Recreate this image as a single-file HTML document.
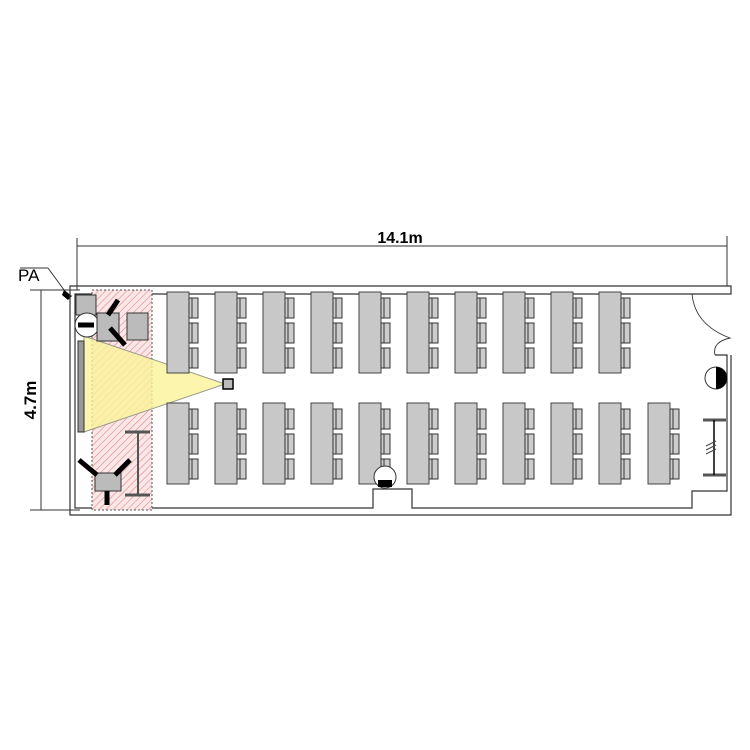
<!DOCTYPE html>
<html><head><style>body{margin:0;background:#fff}svg{display:block}</style></head><body>
<svg width="750" height="750" viewBox="0 0 750 750" xmlns="http://www.w3.org/2000/svg" font-family="Liberation Sans, sans-serif">
<defs>
<pattern id="h" width="5" height="5" patternUnits="userSpaceOnUse" patternTransform="rotate(45)">
<rect width="5" height="5" fill="#fbe7e7"/><line x1="0" y1="0" x2="0" y2="5" stroke="#d88" stroke-width="1.2"/></pattern>
<g id="d"><rect x="0" y="0" width="22" height="81" fill="#c8c8c8" stroke="#444"/>
<g fill="#ccc" stroke="#333"><rect x="22" y="6" width="9" height="20"/><rect x="22" y="31" width="9" height="20"/><rect x="22" y="56" width="9" height="20"/></g>
<g stroke="#333"><line x1="25" y1="6" x2="25" y2="26"/><line x1="25" y1="31" x2="25" y2="51"/><line x1="25" y1="56" x2="25" y2="76"/></g></g>
</defs>
<g stroke="#333" fill="none">
<line x1="77" y1="246" x2="727" y2="246"/><line x1="77" y1="238" x2="77" y2="290"/><line x1="727" y1="236" x2="727" y2="286"/>
<line x1="41" y1="290" x2="41" y2="510"/><line x1="30" y1="290" x2="80" y2="290"/><line x1="30" y1="510" x2="80" y2="510"/>
<line x1="20" y1="268" x2="48" y2="268"/><line x1="48" y1="268" x2="67" y2="294"/>
</g>
<polygon points="64,290 72,296 68,300 62,295" fill="#000"/>
<text x="400" y="243" font-size="16" font-weight="bold" text-anchor="middle">14.1m</text>
<text x="18" y="281" font-size="17">PA</text>
<text transform="translate(36,400) rotate(-90)" font-size="17" font-weight="bold" text-anchor="middle">4.7m</text>
<g stroke="#333" fill="none" stroke-width="1.2">
<path d="M731,355 V515 H70 V286 H731 V294 H692"/>
<path d="M692,294 H75 V508 H373 V489 H412 V508 H692 V491 H727 V355 H715"/>
<path d="M692,294 Q695,325 730,338 Q712,342 715,355" stroke-width="0.9"/>
</g>
<rect x="92" y="290" width="60" height="220" fill="url(#h)" stroke="#555" stroke-dasharray="2,2"/>
<polygon points="84,336 84,432 225,384" fill="#fbf29a" fill-opacity="0.8" stroke="#998"/>
<rect x="78" y="341" width="6" height="91" fill="#999" stroke="#333"/>
<rect x="223" y="379" width="10" height="10" fill="#bbb" stroke="#000" stroke-width="1.5"/>
<g fill="#bbb" stroke="#333">
<rect x="76" y="295" width="20" height="20"/>
<circle cx="87" cy="325" r="12" fill="#fff"/>
<rect x="97" y="313" width="22" height="28"/>
<rect x="127" y="313" width="21" height="27"/><rect x="95" y="473" width="26" height="18"/>
</g>
<g stroke="#000" stroke-width="5">
<line x1="118" y1="300" x2="108" y2="315"/><line x1="110" y1="328" x2="125" y2="345"/>
<line x1="79" y1="460" x2="97" y2="475"/><line x1="130" y1="460" x2="115" y2="475"/>
<line x1="107" y1="491" x2="107" y2="505"/><line x1="78" y1="325" x2="94" y2="325"/>
</g>
<g stroke="#555" stroke-width="3"><line x1="125" y1="432" x2="150" y2="432"/><line x1="125" y1="495" x2="150" y2="495"/></g>
<line x1="138" y1="432" x2="138" y2="495" stroke="#555" stroke-width="2"/>
<g>
<use href="#d" x="167" y="292"/><use href="#d" x="215" y="292"/><use href="#d" x="263" y="292"/><use href="#d" x="311" y="292"/><use href="#d" x="359" y="292"/><use href="#d" x="407" y="292"/><use href="#d" x="455" y="292"/><use href="#d" x="503" y="292"/><use href="#d" x="551" y="292"/><use href="#d" x="599" y="292"/>
<use href="#d" x="167" y="403"/><use href="#d" x="215" y="403"/><use href="#d" x="263" y="403"/><use href="#d" x="311" y="403"/><use href="#d" x="359" y="403"/><use href="#d" x="407" y="403"/><use href="#d" x="455" y="403"/><use href="#d" x="503" y="403"/><use href="#d" x="551" y="403"/><use href="#d" x="599" y="403"/><use href="#d" x="648" y="403"/>
</g>
<circle cx="385" cy="477" r="11" fill="#fff" stroke="#333"/><rect x="378" y="480" width="14" height="7" fill="#000"/>
<circle cx="716" cy="378" r="11" fill="#fff" stroke="#333"/><path d="M716,367 A11,11 0 0 1 716,389 Z" fill="#000"/>
<g stroke="#555" stroke-width="3"><line x1="703" y1="420" x2="726" y2="420"/><line x1="703" y1="475" x2="726" y2="475"/></g>
<line x1="714" y1="420" x2="714" y2="475" stroke="#000" stroke-width="1.5"/>
<g stroke="#444"><line x1="706" y1="446" x2="716" y2="441"/><line x1="706" y1="450" x2="716" y2="445"/><line x1="706" y1="454" x2="716" y2="449"/></g>
</svg>
</body></html>
